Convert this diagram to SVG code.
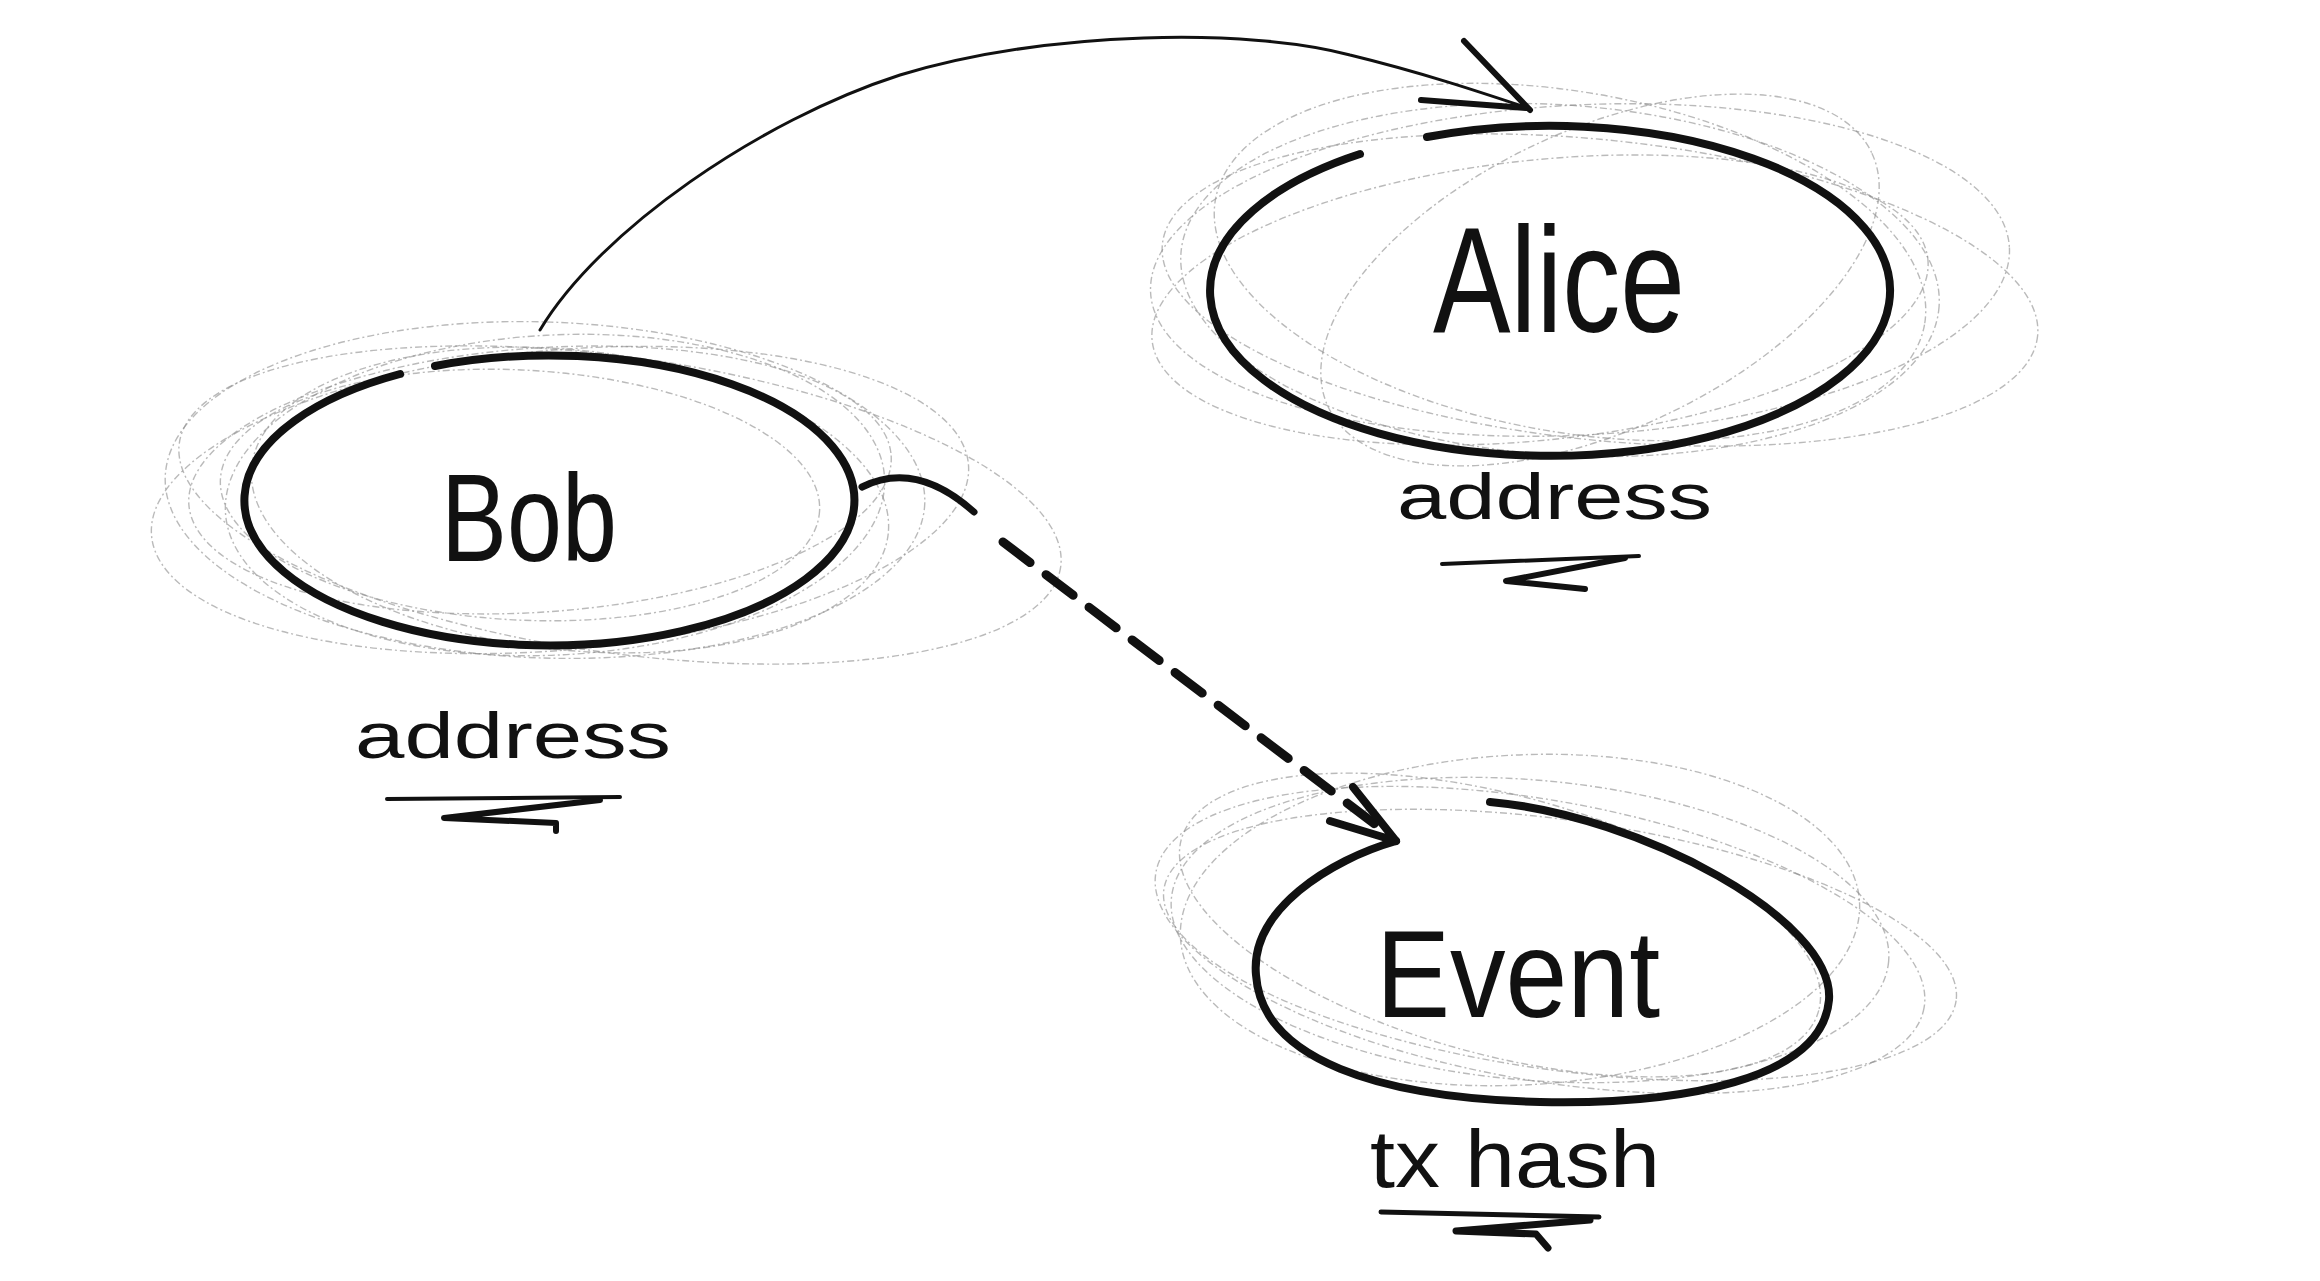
<svg xmlns="http://www.w3.org/2000/svg" width="2320" height="1281" viewBox="0 0 2320 1281">
<defs>
<style>
.scrib{fill:none;stroke:#8c8c8c;stroke-width:1.4;stroke-opacity:0.6;stroke-dasharray:7 3 2 3}
.ring{fill:none;stroke:#111;stroke-width:8;stroke-linecap:round}
.name{font-family:"Liberation Sans",Arial,sans-serif;fill:#111;text-anchor:start}
.attr{font-family:"Liberation Sans",Arial,sans-serif;fill:#111;text-anchor:start}
.under{fill:none;stroke:#111;stroke-linecap:round;stroke-linejoin:round}
.conn{fill:none;stroke:#111;stroke-linecap:round;stroke-linejoin:round}
</style>
</defs>
<rect width="2320" height="1281" fill="#fff"/>

<g id="node-bob">
<ellipse class="scrib" cx="555" cy="495" rx="330" ry="160" transform="rotate(-3 555 495)"/>
<ellipse class="scrib" cx="545" cy="490" rx="380" ry="168" transform="rotate(2 545 490)"/>
<ellipse class="scrib" cx="560" cy="500" rx="410" ry="150" transform="rotate(-5 560 500)"/>
<ellipse class="scrib" cx="620" cy="505" rx="445" ry="148" transform="rotate(8 620 505)"/>
<ellipse class="scrib" cx="520" cy="495" rx="300" ry="125" transform="rotate(3 520 495)"/>
<ellipse class="scrib" cx="540" cy="480" rx="352" ry="132" transform="rotate(-4 540 480)"/>
<ellipse class="scrib" cx="570" cy="500" rx="320" ry="150" transform="rotate(6 570 500)"/>
<path class="ring" d="M435,366 A305,145 0 1 1 400,374"/>
<text class="name" x="441" y="561" font-size="125" textLength="176" lengthAdjust="spacingAndGlyphs">Bob</text>
<text class="attr" x="355" y="758" font-size="64" textLength="316" lengthAdjust="spacingAndGlyphs">address</text>
<path class="under" stroke-width="4" d="M387,799 L620,797"/>
<path class="under" stroke-width="6" d="M600,800 L444,818 L556,823 L556,831"/>
</g>

<g id="node-alice">
<ellipse class="scrib" cx="1560" cy="280" rx="380" ry="175" transform="rotate(4 1560 280)"/>
<ellipse class="scrib" cx="1580" cy="270" rx="430" ry="165" transform="rotate(-3 1580 270)"/>
<ellipse class="scrib" cx="1600" cy="290" rx="440" ry="150" transform="rotate(6 1600 290)"/>
<ellipse class="scrib" cx="1540" cy="300" rx="390" ry="140" transform="rotate(-6 1540 300)"/>
<ellipse class="scrib" cx="1570" cy="262" rx="360" ry="170" transform="rotate(10 1570 262)"/>
<ellipse class="scrib" cx="1600" cy="280" rx="300" ry="150" transform="rotate(-25 1600 280)"/>
<path class="ring" d="M1427,137 A340,165 0 1 1 1360,154"/>
<text class="name" x="1433" y="332" font-size="150" textLength="252" lengthAdjust="spacingAndGlyphs">Alice</text>
<text class="attr" x="1397" y="519" font-size="64" textLength="315" lengthAdjust="spacingAndGlyphs">address</text>
<path class="under" stroke-width="4" d="M1442,564 L1639,556"/>
<path class="under" stroke-width="6" d="M1625,558 L1506,581 L1585,589"/>
</g>

<g id="node-event">
<ellipse class="scrib" cx="1530" cy="930" rx="360" ry="150" transform="rotate(5 1530 930)"/>
<ellipse class="scrib" cx="1540" cy="940" rx="390" ry="140" transform="rotate(10 1540 940)"/>
<ellipse class="scrib" cx="1520" cy="920" rx="340" ry="165" transform="rotate(-3 1520 920)"/>
<ellipse class="scrib" cx="1560" cy="945" rx="400" ry="125" transform="rotate(8 1560 945)"/>
<ellipse class="scrib" cx="1500" cy="925" rx="330" ry="130" transform="rotate(15 1500 925)"/>
<path class="ring" d="M1490,802 C1640,815 1835,920 1829,1000 C1822,1080 1680,1105 1540,1102 C1380,1098 1262,1060 1256,975 C1250,910 1330,860 1396,841"/>
<text class="name" x="1376" y="1017" font-size="125" textLength="284" lengthAdjust="spacingAndGlyphs">Event</text>
<text class="attr" x="1370" y="1187" font-size="82" textLength="290" lengthAdjust="spacingAndGlyphs">tx hash</text>
<path class="under" stroke-width="5" d="M1381,1212 L1599,1217"/>
<path class="under" stroke-width="7" d="M1590,1220 L1456,1231 L1536,1234 L1548,1248"/>
</g>

<g id="connectors">
<path class="conn" stroke-width="3" d="M540,330 C600,230 760,120 900,75 C1050,30 1250,28 1350,55 C1420,72 1480,92 1528,108"/>
<path class="conn" stroke-width="6" d="M1464,41 L1530,110 M1421,100 L1526,108"/>
<path class="conn" stroke-width="7" d="M862,487 Q916,460 974,512"/>
<path class="conn" stroke-width="9" stroke-linecap="butt" stroke-dasharray="34 20" d="M1003,542 L1380,828"/>
<path class="conn" stroke-width="8" d="M1353,787 L1396,841 M1330,821 L1396,841"/>
</g>
</svg>
